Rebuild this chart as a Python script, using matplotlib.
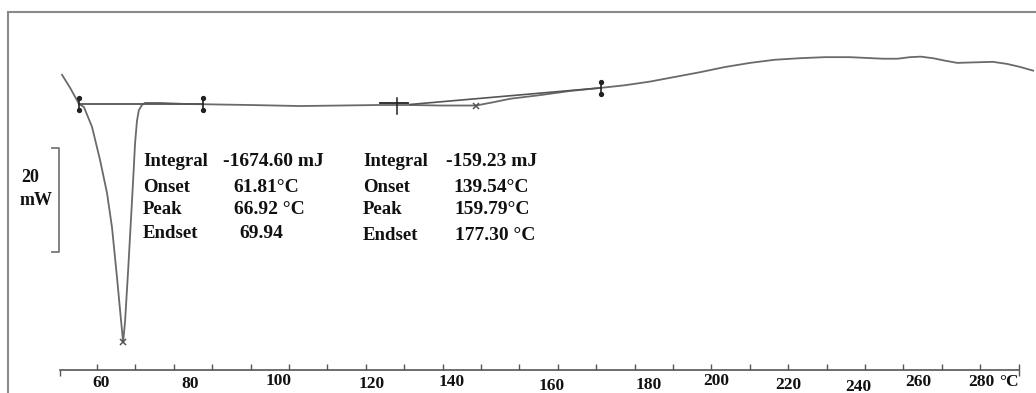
import matplotlib
matplotlib.use("Agg")
import matplotlib.pyplot as plt
from matplotlib.lines import Line2D
import numpy as np

# ---------------- data ----------------
# DSC curve: temperature (°C) and heat flow (mW, relative to baseline)
temp = [50.9, 53.0, 54.5, 55.3, 56.6, 58.7, 60.8, 62.6, 63.9, 65.2, 66.0, 66.8,
        67.3, 68.1, 68.9, 69.4, 69.9, 70.4, 70.9, 71.7, 72.5, 74.0, 76.4, 82.9,
        99.8, 112.9, 133.7,
        141.5, 149.3, 158.7, 163.0, 167.6, 175.4, 183.2, 191.3, 197.5, 204.0,
        210.5, 217.0, 223.5, 230.1, 236.5, 243.1, 249.5, 256.1, 264.7, 268.5,
        271.7, 274.5, 277.7, 281.0, 284.0, 288.5, 293.3, 297.0, 300.5, 303.8]
heat_flow = [5.8, 3.3, 1.3, 0.2, -0.4, -4.2, -10.6, -16.9, -23.5, -33.1, -39.4, -45.6,
             -41.7, -31.9, -21.3, -14.6, -7.5, -3.1, -1.0, 0.0, 0.4, 0.4, 0.4, 0.2,
             0.0, -0.2, 0.0,
             0.0, -0.1, -0.1, 0.5, 1.2, 1.9, 2.7, 3.3, 3.8, 4.5,
             5.4, 6.3, 7.3, 8.1, 8.7, 9.0, 9.2, 9.2, 8.9, 8.9,
             9.2, 9.3, 9.0, 8.5, 8.1, 8.2, 8.3, 7.9, 7.3, 6.6]

# integration limits (T, mW) and baselines
limits_T = [55.3, 87.6, 191.3]
limits_mW = [0.2, 0.2, 3.3]
baseline1_T = [55.3, 87.6]
baseline1_mW = [0.2, 0.2]
baseline2_T = [141.5, 191.3]
baseline2_mW = [0.1, 3.3]
peaks_T = [66.8, 158.7]
peaks_mW = [-45.6, -0.1]
onset2_T = 138.2
onset2_mW = 0.3

# annotation tables
ann_keys = ["Integral", "Onset", "Peak", "Endset"]
ann1_vals = ["-1674.60 mJ", "61.81\u00b0C", "66.92 \u00b0C", "69.94"]
ann2_vals = ["-159.23 mJ", "139.54\u00b0C", "159.79\u00b0C", "177.30 \u00b0C"]

tick_values = list(range(60, 301, 10))
tick_labels = ["60", "80", "100", "120", "140", "160", "180", "200", "220",
               "240", "260", "280", "\u00b0C"]
scale_bar_mW = 20

# ---------------- layout / style ----------------
W, H = 1036, 393
PX_PER_DEG = 3.84
PX_PER_MW = 5.2
X0_PX = 97          # pixel of 60 °C
Y0_PX = 105         # pixel of 0 mW

def T_of(px):
    return 60 + (px - X0_PX) / PX_PER_DEG

def mW_of(py):
    return (Y0_PX - py) / PX_PER_MW

xmin, xmax = 50.4, 300.0
ax_left_px = X0_PX + (xmin - 60) * PX_PER_DEG
ax_w_px = (xmax - xmin) * PX_PER_DEG
axis_py, top_py = 370, 12

fig = plt.figure(figsize=(W / 100, H / 100), dpi=100)
fig.patch.set_facecolor("white")
ax = fig.add_axes([ax_left_px / W, (H - axis_py) / H, ax_w_px / W, (axis_py - top_py) / H])
ax.set_xlim(xmin, xmax)
ax.set_ylim(mW_of(axis_py), mW_of(top_py))
ax.patch.set_alpha(0)

for s in ["top", "right", "left"]:
    ax.spines[s].set_visible(False)
ax.spines["bottom"].set_color("#555555")
ax.spines["bottom"].set_linewidth(1.2)
ax.set_yticks([])
ax.set_xticks(tick_values)
ax.set_xticklabels([])
ax.tick_params(axis="x", which="major", direction="in", length=4, width=1, color="#555555")
ax.xaxis.remove_overlapping_locs = False
ax.set_xticks([xmin, xmax], minor=True)
ax.tick_params(axis="x", which="minor", direction="out", length=4, width=1, color="#555555")

curve_color = "#6a6a6a"
ax.plot(temp, heat_flow, color=curve_color, lw=1.3, clip_on=False, zorder=3,
        solid_joinstyle="round")
ax.plot(baseline1_T, baseline1_mW, color="#555555", lw=1.3, zorder=3)
ax.plot(baseline2_T, baseline2_mW, color="#555555", lw=1.2, zorder=3)

# integration limit markers (vertical bar with dots)
for t, m in zip(limits_T, limits_mW):
    ax.plot([t, t], [m + 1.1, m - 1.1], color="#222222", lw=1.2, zorder=4)
    ax.plot([t, t], [m + 1.1, m - 1.1], ls="none", marker="o", ms=2.8, color="#222222", zorder=4)

# peak markers
ax.plot(peaks_T, peaks_mW, ls="none", marker="x", ms=5, mew=1.1, color="#555555", zorder=4)

# onset marker (cross)
ax.plot([onset2_T - 4.5, onset2_T + 2.8], [onset2_mW, onset2_mW], color="#222222", lw=1.3, zorder=4)
ax.plot([onset2_T, onset2_T], [onset2_mW + 1.1, onset2_mW - 2.0], color="#222222", lw=1.1, zorder=4)

# scale bar
sb_top = mW_of(148)
sb_x = T_of(59)
sb_x2 = T_of(52)
ax.plot([sb_x2, sb_x, sb_x, sb_x2], [sb_top, sb_top, sb_top - scale_bar_mW, sb_top - scale_bar_mW],
        color="#777777", lw=1.3, clip_on=False)
tfont = dict(family="Liberation Serif", weight="bold", color="#111111")
ax.text(T_of(30), mW_of(177), "20", fontsize=13, ha="center", va="center", **tfont)
ax.text(T_of(36), mW_of(200), "mW", fontsize=13, ha="center", va="center", **tfont)

# annotations
row_py1 = [162, 187, 210, 233]
row_py2 = [162, 187, 210, 236]
val1_px = [223, 233, 234, 239]
val2_px = [446, 453, 454, 455]
for i, k in enumerate(ann_keys):
    ax.text(T_of(143), mW_of(row_py1[i]), k, fontsize=13.5, ha="left", va="center", **tfont)
    ax.text(T_of(val1_px[i]), mW_of(row_py1[i]), ann1_vals[i], fontsize=14, ha="left", va="center", **tfont)
    ax.text(T_of(363), mW_of(row_py2[i]), k, fontsize=13.5, ha="left", va="center", **tfont)
    ax.text(T_of(val2_px[i]), mW_of(row_py2[i]), ann2_vals[i], fontsize=14, ha="left", va="center", **tfont)

# tick labels (hand-placed as in the original)
lab_px = [101, 190, 279, 372, 452, 552, 649, 716, 788, 858, 918, 981, 1009]
lab_py = [383, 384, 381, 384, 382, 386, 385, 381, 385, 387, 382, 382, 382]
for lab, px, py in zip(tick_labels, lab_px, lab_py):
    ax.text(T_of(px), mW_of(py), lab, fontsize=12.5, ha="center", va="center", clip_on=False, **tfont)

# outer frame (left and top)
fig.add_artist(Line2D([8 / W, 8 / W], [0, 1 - 12 / H], color="#8a8a8a", lw=1.5))
fig.add_artist(Line2D([8 / W, 1], [1 - 12 / H, 1 - 12 / H], color="#8a8a8a", lw=1.5))

fig.savefig("out.png", dpi=100, facecolor="white")
